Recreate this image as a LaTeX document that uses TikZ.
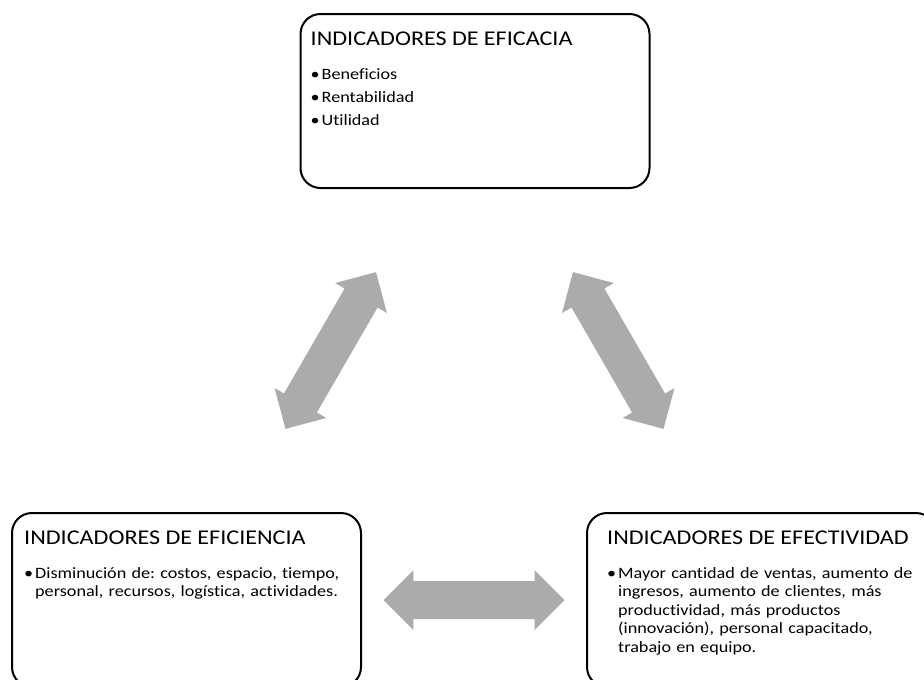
\documentclass[tikz,border=0pt]{standalone}
\usepackage{fontspec}
\setmainfont{Carlito}[FakeStretch=1.15, Ligatures=CommonOff]
\usetikzlibrary{positioning,calc,shapes.arrows}
\definecolor{arrowgray}{RGB}{171,171,171}
\newcommand{\indtitle}[1]{{\fontsize{21}{24}\selectfont #1\par}\vspace{15pt}}
\newcommand{\inditem}[1]{\hangindent=11pt\hangafter=1\noindent\makebox[11pt][l]{\textbullet}#1\par\vspace{4.8pt}}
\tikzset{
	indbox/.style={draw, line width=2pt, rounded corners=20pt, minimum width=349pt, minimum height=174pt},
	indtext/.style={anchor=north west, inner sep=0pt, text width=340pt, align=left, font=\fontsize{15.8}{18.5}\selectfont\frenchspacing},
	dblarrow/.style={double arrow, fill=arrowgray, inner xsep=0pt, inner ysep=18.8pt, minimum height=181pt, double arrow head extend=10.9pt}
}
\begin{document}
\begin{tikzpicture}[x=1pt,y=-1pt]
			\useasboundingbox (0,0) rectangle (924,680);
			\clip (0,0) rectangle (924,680);
			\coordinate (E) at (475,101);
			\coordinate (F) at (186.5,600);
			\coordinate (V) at (761.5,600);
			\node[indbox] (eficacia) at (E) {};
			\node[indbox] (eficiencia) at (F) {};
			\node[indbox] (efectividad) at (V) {};
			\node[indtext] (eficaciatxt) at ([shift={(11,19)}]eficacia.north west) {\indtitle{INDICADORES DE EFICACIA}\inditem{Beneficios}\inditem{Rentabilidad}\inditem{Utilidad}};
			\node[indtext] (eficienciatxt) at ([shift={(13,19)}]eficiencia.north west) {\indtitle{INDICADORES DE EFICIENCIA}\inditem{Disminución de: costos, espacio, tiempo,\newline personal, recursos, logística, actividades.}};
			\node[indtext] (efectividadtxt) at ([shift={(21,19)}]efectividad.north west) {\indtitle{INDICADORES DE EFECTIVIDAD}\inditem{Mayor cantidad de ventas, aumento de\newline ingresos, aumento de clientes, más\newline productividad, más productos\newline (innovación), personal capacitado,\newline trabajo en equipo.}};
			\node[dblarrow, rotate=60] (flechaA) at ($(eficacia)!0.5!(eficiencia)$) {};
			\node[dblarrow, rotate=-60] (flechaB) at ($(eficacia)!0.5!(efectividad)$) {};
			\node[dblarrow] (flechaC) at ($(eficiencia)!0.5!(efectividad)$) {};
		\end{tikzpicture}
\end{document}
